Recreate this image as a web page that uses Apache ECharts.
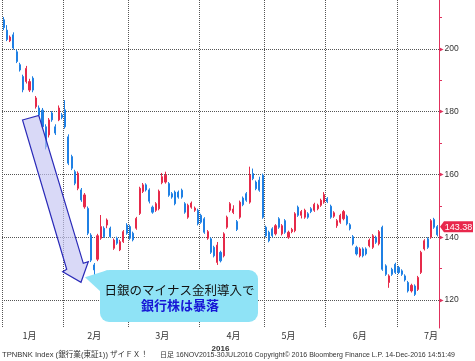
<!DOCTYPE html>
<html><head><meta charset="utf-8">
<script src="https://cdn.jsdelivr.net/npm/echarts@6/dist/echarts.min.js"></script>
<style>html,body{margin:0;padding:0;background:#fff}#c{width:475px;height:361px}</style>
</head><body><div id="c"></div>
<script>
const dates = [
 '1/4','1/5','1/6','1/7','1/8','1/12','1/13','1/14','1/15','1/18','1/19','1/20','1/21','1/22','1/25','1/26','1/27','1/28','1/29',
 '2/1','2/2','2/3','2/4','2/5','2/8','2/9','2/10','2/12','2/15','2/16','2/17','2/18','2/19','2/22','2/23','2/24','2/25','2/26','2/29',
 '3/1','3/2','3/3','3/4','3/7','3/8','3/9','3/10','3/11','3/14','3/15','3/16','3/17','3/18','3/22','3/23','3/24','3/25','3/28','3/29','3/30','3/31',
 '4/1','4/4','4/5','4/6','4/7','4/8','4/11','4/12','4/13','4/14','4/15','4/18','4/19','4/20','4/21','4/22','4/25','4/26','4/27','4/28',
 '5/2','5/6','5/9','5/10','5/11','5/12','5/13','5/16','5/17','5/18','5/19','5/20','5/23','5/24','5/25','5/26','5/27','5/30','5/31',
 '6/1','6/2','6/3','6/6','6/7','6/8','6/9','6/10','6/13','6/14','6/15','6/16','6/17','6/20','6/21','6/22','6/23','6/24','6/27','6/28','6/29','6/30',
 '7/1','7/4','7/5','7/6','7/7','7/8','7/11','7/12','7/13','7/14','7/15','7/19','7/20'
];
const opens = [
 209.3,206.0,202.6,204.5,199.1,195.0,191.2,189.6,186.9,190.7,181.6,181.2,180.5,175.2,172.6,179.6,175.2,177.4,179.0,
 180.6,172.0,165.7,160.9,155.6,155.1,149.7,149.2,140.7,131.2,133.0,139.7,142.9,143.9,142.9,136.5,139.7,136.0,138.6,143.9,
 143.4,141.3,142.9,147.6,154.6,156.7,155.1,149.6,148.6,149.1,157.4,157.6,157.1,153.9,154.4,154.4,155.0,150.7,146.4,149.6,148.6,148.6,
 147.0,145.9,139.7,139.5,136.8,132.0,135.2,134.1,143.2,148.6,147.9,145.0,146.4,152.5,153.9,151.2,160.3,157.6,158.2,159.8,
 143.2,141.6,142.7,141.1,145.9,141.1,145.3,140.0,141.8,142.1,149.6,147.0,146.4,147.5,149.1,148.6,149.1,150.2,151.2,
 152.3,149.9,146.7,143.7,144.8,145.9,146.7,144.0,140.2,136.8,134.1,136.3,136.3,137.3,136.8,140.0,137.9,143.2,130.9,125.6,129.8,131.4,
 130.4,129.3,127.7,125.6,122.9,124.5,123.4,128.8,136.3,139.5,140.0,145.7,143.4
];
const closes = [
 206.8,203.0,203.8,200.3,196.0,193.3,187.0,193.8,189.6,186.9,184.4,179.0,175.2,168.8,177.4,177.4,173.2,181.2,178.2,
 175.2,163.6,162.0,157.2,160.4,151.9,153.5,141.3,132.7,129.6,140.5,143.4,140.2,145.5,140.2,139.1,138.1,138.6,141.8,141.3,
 139.7,139.2,146.0,155.6,156.7,155.1,151.5,148.0,150.7,154.7,159.3,159.8,153.4,152.8,150.7,152.8,152.8,148.0,150.2,150.9,149.3,144.3,
 144.8,141.6,141.8,135.2,134.1,137.5,132.5,141.1,146.4,150.7,149.0,142.5,151.2,150.4,151.8,159.8,158.7,155.5,155.0,146.4,
 140.5,138.9,140.5,143.7,143.2,143.7,141.6,141.6,142.5,147.5,147.0,148.2,148.6,146.4,148.2,150.5,150.2,151.8,153.6,
 151.4,146.4,147.8,145.3,147.0,148.2,144.3,142.7,137.9,134.7,136.3,134.1,134.7,139.1,140.5,138.4,141.8,129.8,128.2,127.7,128.2,128.8,
 128.8,128.2,126.4,122.9,124.7,121.8,127.2,135.2,138.9,136.8,145.3,143.2,140.8
];
const lows = [
 206.0,202.5,202.2,199.8,195.5,192.8,186.2,189.0,186.3,186.2,181.0,178.5,174.6,168.0,171.8,176.8,172.6,177.0,177.6,
 174.6,163.0,161.4,156.6,155.0,151.3,149.1,140.7,132.1,127.4,132.4,139.2,139.8,142.9,139.8,136.0,137.6,135.6,138.2,140.8,
 139.2,138.7,142.4,147.1,154.1,154.6,150.8,147.5,148.1,148.6,156.9,157.1,152.9,152.3,150.2,152.3,152.3,147.5,145.9,149.1,148.1,143.8,
 144.3,141.1,139.2,134.7,133.6,131.2,132.0,133.6,142.7,148.0,147.4,142.0,145.9,149.9,151.3,150.7,158.2,155.0,154.5,145.9,
 140.0,138.4,140.0,140.6,142.7,140.6,141.1,139.5,141.3,141.6,146.5,146.0,145.9,145.9,147.7,148.1,148.6,149.7,150.7,
 150.9,145.9,146.2,143.0,144.3,145.4,143.8,142.2,137.4,134.2,133.6,133.6,134.2,136.8,136.3,137.9,137.4,129.3,127.7,123.9,127.7,128.3,
 128.3,127.7,125.9,122.4,122.4,121.3,122.9,128.3,135.8,136.3,139.5,142.7,140.3
];
const highs = [
 210.2,207.6,204.3,205.3,199.8,195.6,191.8,194.6,190.5,191.3,185.0,182.0,181.2,176.0,178.0,180.2,176.0,182.0,179.6,
 183.7,172.8,166.3,161.5,161.0,155.7,154.1,149.8,141.3,131.8,141.1,147.1,143.5,146.0,143.4,139.6,140.2,139.2,142.3,144.5,
 144.0,141.8,146.5,156.1,157.3,157.2,155.6,150.1,151.2,155.2,160.5,160.9,157.6,154.4,154.9,154.9,155.5,151.2,150.7,151.4,149.8,149.1,
 147.5,146.4,142.3,140.0,137.3,138.5,135.7,141.6,146.9,151.2,150.2,145.5,151.7,153.0,154.4,162.5,161.9,158.1,159.3,160.3,
 143.7,142.1,143.2,144.2,146.4,144.2,145.8,142.1,143.0,148.0,150.1,148.7,149.1,148.0,149.6,151.0,150.7,152.3,154.4,
 152.8,150.4,148.3,145.8,147.5,148.7,147.2,144.5,140.7,137.3,136.8,136.8,136.8,139.6,141.0,140.5,142.3,143.7,131.4,128.2,130.3,131.9,
 130.9,129.8,128.2,126.1,125.2,125.0,127.7,135.7,139.4,140.0,145.8,146.2,143.9
];
const monthLabels = {1:'1月',2:'2月',3:'3月',4:'4月',5:'5月',6:'6月',7:'7月'};
const yearLabel = '2016';
const yTicks = [120, 140, 160, 180, 200];
const yMinorTicks = [130, 150, 170, 190, 210];
const lastPrice = 143.38;
const footerLeft = 'TPNBNK Index (銀行業(東証1)) ザイＦＸ！';
const footerRight = '日足 16NOV2015-30JUL2016 Copyright© 2016 Bloomberg Finance L.P. 14-Dec-2016 14:51:49';

const UP = '#e62a4a', DOWN = '#1f80e4', AXIS = '#e0305c';
const months = dates.map(d => +d.split('/')[0]);
const days = dates.map(d => +d.split('/')[1]);
const firstIdx = new Set(), labelIdx = new Set();
months.forEach((m, i) => {
  if (i === 0 || months[i - 1] !== m) firstIdx.add(i);
});
const seen = new Set();
months.forEach((m, i) => { if (!seen.has(m) && days[i] >= 15) { seen.add(m); labelIdx.add(i); } });

const data = dates.map((d, i) => [opens[i], closes[i], lows[i], highs[i]]);
const chart = echarts.init(document.getElementById('c'), null, {renderer: 'canvas'});
const grid = {left: 2, right: 36, top: 0, bottom: 33};
const dotted = {color: '#555', type: [1, 1], width: 1};
chart.setOption({
  animation: false,
  backgroundColor: '#fff',
  grid: grid,
  xAxis: {
    type: 'category', data: dates, boundaryGap: true,
    axisLine: {show: false}, axisTick: {show: false},
    axisLabel: {interval: (i) => labelIdx.has(i), formatter: v => monthLabels[+v.split('/')[0]],
      color: '#333', fontSize: 9, margin: 3, fontFamily: 'Noto Sans CJK JP'},
    splitLine: {show: true, interval: (i) => firstIdx.has(i), lineStyle: dotted},
    name: yearLabel, nameLocation: 'middle', nameGap: 12,
    nameTextStyle: {color: '#333', fontSize: 8, fontFamily: 'Liberation Sans', fontWeight: 'bold'}
  },
  yAxis: [{
    type: 'value', position: 'right', min: 111.1, max: 215.6, scale: true,
    axisLine: {show: false},
    axisTick: {show: false, customValues: yTicks},
    axisLabel: {customValues: yTicks, margin: 0, formatter: v => '{a|▶}{b|' + v + '}',
      rich: {a: {color: AXIS, fontSize: 6, fontFamily: 'DejaVu Sans'},
             b: {color: '#333', fontSize: 8.5, fontFamily: 'Liberation Sans', padding: [0, 0, 0, 1]}}},
    splitLine: {show: true, lineStyle: dotted}
  }, {
    type: 'value', position: 'right', min: 111.1, max: 215.6, scale: true,
    axisLine: {show: true, lineStyle: {color: AXIS, width: 1}},
    axisTick: {show: true, customValues: yMinorTicks, length: 3, lineStyle: {color: AXIS}},
    axisLabel: {show: false}, splitLine: {show: false}
  }],
  series: [{
    type: 'candlestick', data: data, barWidth: 1.6, yAxisIndex: 0,
    itemStyle: {color: UP, color0: DOWN, borderColor: UP, borderColor0: DOWN, borderWidth: 1}
  }]
});

const ly = chart.convertToPixel({yAxisIndex: 0}, lastPrice);
const ax = chart.getWidth() - grid.right;
chart.setOption({
  graphic: [
    {type: 'polygon', z: 100, shape: {points: [[22.5,120],[38.8,115.5],[83.3,263.3],[88.3,261.7],[81,282.3],[62.7,271.7],[66.7,269.3]]},
      style: {fill: 'rgba(196,196,242,0.65)', stroke: '#2a2ab8', lineWidth: 1.2}},
    {type: 'polygon', z: 100, shape: {points: [[85,277.3],[108,270],[101,292]]}, style: {fill: '#8fe3f6'}},
    {type: 'rect', z: 100, shape: {x: 100, y: 270, width: 158, height: 52, r: 9}, style: {fill: '#8fe3f6'}},
    {type: 'text', z: 101, x: 179.5, y: 290, style: {text: '日銀のマイナス金利導入で', fill: '#111', font: '12.5px "Noto Sans CJK JP"', align: 'center', verticalAlign: 'middle'}},
    {type: 'text', z: 101, x: 180, y: 305.5, style: {text: '銀行株は暴落', fill: '#1616d6', font: 'bold 13px "Noto Sans CJK JP"', align: 'center', verticalAlign: 'middle'}},
    {type: 'polygon', z: 100, shape: {points: [[ax + 1, ly],[ax + 5, ly - 5.5],[473, ly - 5.5],[473, ly + 5.5],[ax + 5, ly + 5.5]]}, style: {fill: '#e8284c'}},
    {type: 'text', z: 101, x: 458.5, y: ly + 0.5, style: {text: String(lastPrice), fill: '#fff', font: '9px "Liberation Sans"', align: 'center', verticalAlign: 'middle'}},
    {type: 'text', z: 101, x: 2, y: 355, style: {text: footerLeft, fill: '#333', font: '7.6px "Liberation Sans", "Noto Sans CJK JP"', verticalAlign: 'middle'}},
    {type: 'text', z: 101, x: 160, y: 355, style: {text: footerRight, fill: '#333', font: '7px "Liberation Sans", "Noto Sans CJK JP"', verticalAlign: 'middle'}}
  ]
});
</script></body></html>
